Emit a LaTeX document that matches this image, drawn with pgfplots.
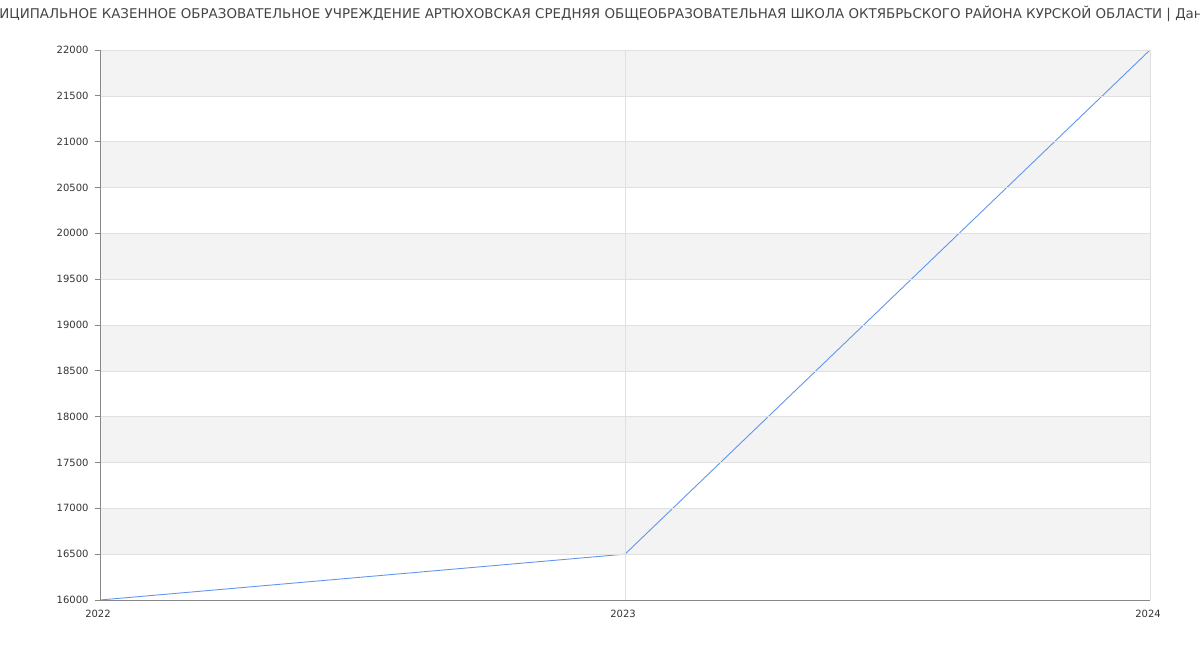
\documentclass[border=0pt]{standalone}
\usepackage{pgfplots}
\pgfplotsset{compat=1.18}
\usepackage{fontspec}
\setmainfont{DejaVu Sans}
\definecolor{linec}{HTML}{6495ED}
\definecolor{bandc}{HTML}{F3F3F3}
\definecolor{gridc}{HTML}{E0E0E0}
\definecolor{axc}{HTML}{888888}
\definecolor{txt}{HTML}{333333}
\definecolor{ttl}{HTML}{444444}
\begin{document}
\begin{tikzpicture}
\useasboundingbox (0pt,0pt) rectangle (1200pt,650pt);
\node[anchor=center,text=ttl,font=\fontsize{13.4}{15}\selectfont,inner sep=0pt] at (600pt,636pt) {МУНИЦИПАЛЬНОЕ КАЗЕННОЕ ОБРАЗОВАТЕЛЬНОЕ УЧРЕЖДЕНИЕ АРТЮХОВСКАЯ СРЕДНЯЯ ОБЩЕОБРАЗОВАТЕЛЬНАЯ ШКОЛА ОКТЯБРЬСКОГО РАЙОНА КУРСКОЙ ОБЛАСТИ | Данные};
\begin{axis}[
  at={(100pt,50pt)}, anchor=south west,
  width=1050pt, height=550pt, scale only axis,
  axis on top,
  xmin=2022, xmax=2024, ymin=16000, ymax=22000,
  xtick={2022,2023,2024},
  xticklabels={2022,2023,2024},
  ytick={16000,16500,...,22000},
  scaled y ticks=false,
  /pgf/number format/1000 sep={},
  /pgf/number format/fixed,
  /pgf/number format/assume math mode=true,
  tick label style={font=\fontsize{10}{12}\selectfont, text=txt},
  xticklabel style={yshift=-2pt, xshift=-2pt},
  yticklabel style={xshift=-3pt},
  axis x line*=bottom, axis y line*=left,
  axis line style={axc, line width=0.8pt, -},
  x tick style={draw=none},
  y tick style={axc, line width=0.8pt},
  tick align=outside, major tick length=5pt,
  grid=major, major grid style={gridc, line width=0.6pt},
]
\fill[bandc] (axis cs:2022,16500) rectangle (axis cs:2024,17000);
\fill[bandc] (axis cs:2022,17500) rectangle (axis cs:2024,18000);
\fill[bandc] (axis cs:2022,18500) rectangle (axis cs:2024,19000);
\fill[bandc] (axis cs:2022,19500) rectangle (axis cs:2024,20000);
\fill[bandc] (axis cs:2022,20500) rectangle (axis cs:2024,21000);
\fill[bandc] (axis cs:2022,21500) rectangle (axis cs:2024,22000);
\addplot[linec, line width=0.9pt, mark=none] coordinates {(2022,16000) (2023,16500) (2024,22000)};
\end{axis}
\end{tikzpicture}
\end{document}
